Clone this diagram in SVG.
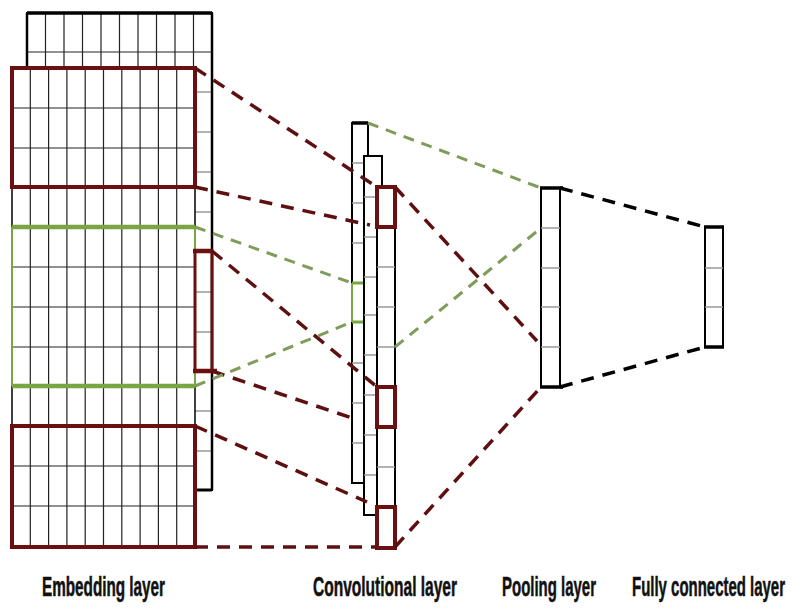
<svg xmlns="http://www.w3.org/2000/svg" width="793" height="608" viewBox="0 0 793 608">
<defs>
<style>
.grid{stroke:#222;stroke-width:1.2;fill:none}
.tick{stroke:#999;stroke-width:1.5}
.box{fill:#fff;stroke:#000;stroke-width:2}
.thick{stroke:#000;stroke-width:3.5;fill:none}
.redbox{fill:none;stroke:#6a1010;stroke-width:4}
.redline{stroke:#6a1010;stroke-width:4.5}
.greenline{stroke:#7aa543;stroke-width:4.5}
.greenedge{stroke:#7aa543;stroke-width:2}
.dr{stroke:#5e1010;stroke-width:3.5;stroke-dasharray:13 9;fill:none}
.dg{stroke:#7f9c5a;stroke-width:3;stroke-dasharray:11 8;fill:none}
.dk{stroke:#000;stroke-width:3.5;stroke-dasharray:13 9;fill:none}
.lbl{font-family:"Liberation Sans Narrow","Liberation Sans",Arial,sans-serif;font-weight:bold;font-size:15px;fill:#111;stroke:#111;stroke-width:0.3}
</style>
</defs>
<rect width="793" height="608" fill="#fff"/>

<g id="embedding">
  <rect x="27" y="13" width="185" height="477" fill="#fff" stroke="#000" stroke-width="2"/>
  <g class="grid">
    <path d="M45.5 13V68M64 13V68M82.5 13V68M101 13V68M119.5 13V68M138 13V68M156.5 13V68M175 13V68M193.5 13V68"/>
    <path d="M27 52H212"/>
  </g>
  <g class="tick">
    <path d="M195 92H212M195 132H212M195 172H212M195 212H212M195 292H212M195 332H212M195 411H212M195 451H212"/>
  </g>
  <path d="M27 13H212" class="thick"/>
  <path d="M27 13V68" stroke="#000" stroke-width="2.5"/>
  <path d="M195 490H212" stroke="#000" stroke-width="3"/>
  <path d="M212 13V490" stroke="#000" stroke-width="2.5"/>
  <rect x="12" y="68" width="183" height="479" fill="#fff" stroke="#000" stroke-width="1.5"/>
  <g class="grid">
    <path d="M30.3 68V547M48.6 68V547M66.9 68V547M85.2 68V547M103.5 68V547M121.8 68V547M140.1 68V547M158.4 68V547M176.7 68V547"/>
    <path d="M12 108H195M12 148H195M12 267H195M12 307H195M12 347H195M12 466H195M12 506H195"/>
  </g>
  <rect x="12" y="68" width="183" height="119" class="redbox"/>
  <path d="M12 227V386M195 227V386" class="greenedge"/>
  <path d="M12 227H195M12 386H195" class="greenline"/>
  <rect x="12" y="426" width="183" height="121" class="redbox"/>
  <rect x="195" y="251" width="17" height="120" fill="none" stroke="#6a1010" stroke-width="3"/>
  <path d="M193 251H213M193 371H217" class="redline"/>
</g>

<g id="convolutional">
  <rect x="352" y="123" width="16" height="360" class="box"/>
  <path d="M352 123H368" stroke="#000" stroke-width="3.5"/>
  <g class="tick"><path d="M352 163H364M352 203H364M352 243H364M352 363H364M352 403H364M352 443H364"/></g>
  <path d="M352 283V322" class="greenedge"/>
  <path d="M352 283H364M352 322H364" stroke="#7aa543" stroke-width="3"/>
  <rect x="364" y="156" width="18" height="359" class="box"/>
  <g class="tick"><path d="M364 197H377M364 237H377M364 277H377M364 315H377M364 355H377M364 395H377M364 435H377M364 475H377"/></g>
  <rect x="377" y="187" width="18" height="361" class="box"/>
  <g class="tick"><path d="M377 267H395M377 307H395M377 347H395M377 467H395"/></g>
  <rect x="377" y="187" width="18" height="40" class="redbox"/>
  <rect x="377" y="387" width="18" height="40" class="redbox"/>
  <rect x="377" y="507" width="18" height="41" class="redbox"/>
</g>

<g id="pooling">
  <rect x="541" y="188" width="19" height="199" class="box"/>
  <g class="tick"><path d="M541 228H560M541 268H560M541 307H560M541 347H560"/></g>
  <path d="M540 188H563M540 387H563" stroke="#000" stroke-width="3.5"/>
</g>

<g id="fully-connected">
  <rect x="705" y="227" width="18" height="120" class="box"/>
  <g class="tick"><path d="M705 268H723M705 307H723"/></g>
  <path d="M704 227H724M704 347H724" stroke="#000" stroke-width="3.5"/>
</g>

<g id="connectors">
  <path d="M195 68L377 187" class="dr"/>
  <path d="M195 187L370 225" class="dr"/>
  <path d="M212 251L377 387" class="dr"/>
  <path d="M212 371L352 418" class="dr"/>
  <path d="M195 426L367 502" class="dr"/>
  <path d="M195 547H377" class="dr"/>
  <path d="M395 187L537 341" class="dr"/>
  <path d="M395 547L541 387" class="dr"/>
  <path d="M368 123L541 188" class="dg"/>
  <path d="M195 227L352 283" class="dg"/>
  <path d="M195 386L352 322" class="dg"/>
  <path d="M395 347L541 228" class="dg"/>
  <path d="M560 188L705 227" class="dk"/>
  <path d="M560 387L705 347" class="dk"/>
</g>

<g id="labels">
  <text transform="translate(42 596) scale(1 1.8)" class="lbl" textLength="123" lengthAdjust="spacingAndGlyphs">Embedding layer</text>
  <text transform="translate(313 596) scale(1 1.8)" class="lbl" textLength="144" lengthAdjust="spacingAndGlyphs">Convolutional layer</text>
  <text transform="translate(502 596) scale(1 1.8)" class="lbl" textLength="94" lengthAdjust="spacingAndGlyphs">Pooling layer</text>
  <text transform="translate(632 596) scale(1 1.8)" class="lbl" textLength="153" lengthAdjust="spacingAndGlyphs">Fully connected layer</text>
</g>
</svg>
